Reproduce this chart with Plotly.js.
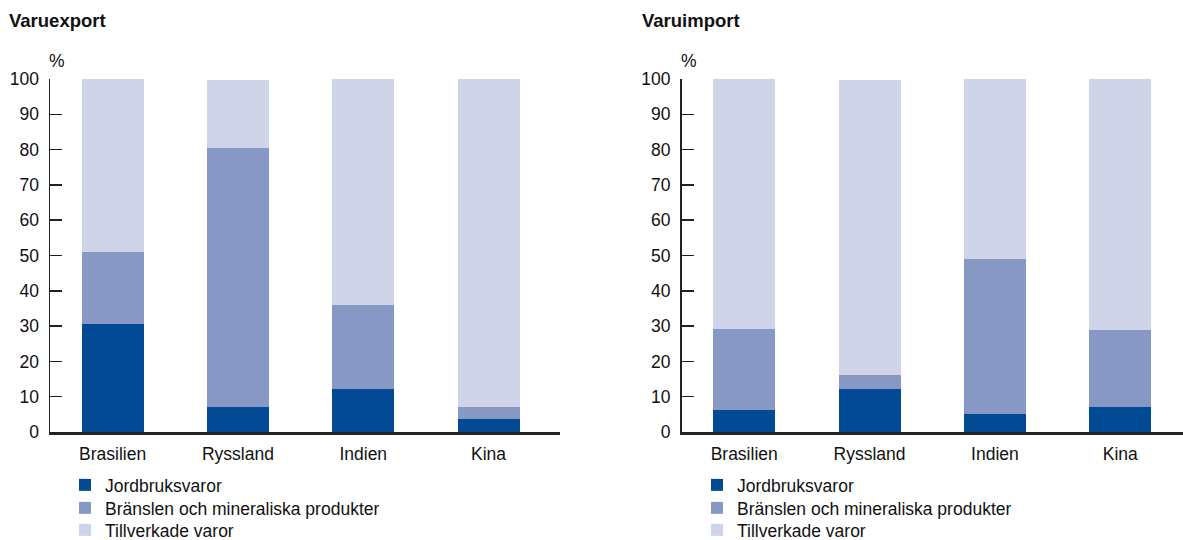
<!DOCTYPE html>
<html><head><meta charset="utf-8">
<script src="https://cdn.plot.ly/plotly-3.0.1.min.js"></script>
<style>html,body{margin:0;padding:0;background:#fff}#chart{width:1183px;height:540px}</style>
</head><body><div id="chart"></div>
<script>
const categories = ["Brasilien", "Ryssland", "Indien", "Kina"];
const seriesNames = ["Jordbruksvaror", "Bränslen och mineraliska produkter", "Tillverkade varor"];
const exportJord = [30.5, 7.1, 12.1, 3.6];
const exportBransle = [20.4, 73.3, 23.8, 3.4];
const exportTillv = [49.1, 19.3, 64.1, 93.0];
const importJord = [6.1, 12.1, 5.0, 7.0];
const importBransle = [23.0, 4.0, 44.0, 21.9];
const importTillv = [70.9, 83.6, 51.0, 71.1];
const yTicks = [0, 10, 20, 30, 40, 50, 60, 70, 80, 90, 100];
const colors = ["#034a94", "#8898c4", "#cfd4e8"];

const font = "Liberation Sans, Arial, Helvetica, sans-serif";
const FS = 17.5;
const traces = [];
const exp = [exportJord, exportBransle, exportTillv];
const imp = [importJord, importBransle, importTillv];
for (let i = 0; i < 3; i++) {
  traces.push({type: "bar", x: categories, y: exp[i], name: seriesNames[i], xaxis: "x", yaxis: "y",
    marker: {color: colors[i], line: {width: 0}}, width: 0.495, legend: "legend" + (i === 0 ? "" : (i + 1)), hoverinfo: "skip"});
}
for (let i = 0; i < 3; i++) {
  traces.push({type: "bar", x: categories, y: imp[i], name: seriesNames[i], xaxis: "x2", yaxis: "y2",
    marker: {color: colors[i], line: {width: 0}}, width: 0.495, legend: "legend" + (i + 4), hoverinfo: "skip"});
}
const yax = (anchor) => ({
  range: [0, 100], tickvals: yTicks, ticktext: yTicks.map(String), ticks: "inside", ticklen: 12,
  tickcolor: "#222", tickwidth: 1.5, showline: true, linecolor: "#222", linewidth: 1.5,
  showgrid: false, zeroline: false, anchor: anchor, ticklabelstandoff: 6,
  tickfont: {family: font, size: FS, color: "#111"}, fixedrange: true
});
const xax = (domain, range, anchor) => ({
  domain: domain, range: range, type: "category", showline: true, linecolor: "#222", linewidth: 2.5,
  ticks: "", showgrid: false, zeroline: false, anchor: anchor, ticklabelstandoff: 4,
  tickfont: {family: font, size: FS, color: "#111"}, fixedrange: true
});
const W = 1133, H = 353;
const legendBase = {orientation: "v", xanchor: "left", yanchor: "top", traceorder: "normal",
  font: {family: font, size: FS, color: "#111"}, bgcolor: "rgba(0,0,0,0)", tracegroupgap: 0, itemclick: false};
const legendTops = [467, 490, 512];
const layout = {
  width: 1183, height: 540, margin: {l: 50, r: 0, t: 79, b: 108, autoexpand: false},
  barmode: "stack", paper_bgcolor: "#fff", plot_bgcolor: "#fff", showlegend: true,
  font: {family: font, color: "#111"},
  xaxis: xax([0, 510 / W], [-0.5, 3.57], "y"),
  yaxis: yax("x"),
  xaxis2: xax([631.5 / W, 1], [-0.5, 3.5], "y2"),
  yaxis2: yax("x2"),
  annotations: [
    {text: "<b>Varuexport</b>", xref: "paper", yref: "paper", x: -43 / W, y: (432 - 20) / H, xanchor: "left", yanchor: "middle", showarrow: false, font: {family: font, size: 18.5, color: "#111"}},
    {text: "<b>Varuimport</b>", xref: "paper", yref: "paper", x: 590 / W, y: (432 - 20) / H, xanchor: "left", yanchor: "middle", showarrow: false, font: {family: font, size: 18.5, color: "#111"}},
    {text: "%", xref: "paper", yref: "paper", x: -3 / W, y: (432 - 61) / H, xanchor: "left", yanchor: "middle", showarrow: false, font: {family: font, size: FS, color: "#111"}},
    {text: "%", xref: "paper", yref: "paper", x: 628.5 / W, y: (432 - 61) / H, xanchor: "left", yanchor: "middle", showarrow: false, font: {family: font, size: FS, color: "#111"}}
  ]
};
for (let i = 0; i < 6; i++) {
  const key = "legend" + (i === 0 ? "" : (i + 1));
  const xpx = i < 3 ? 65 : 697;
  layout[key] = Object.assign({}, legendBase, {x: (xpx - 50) / W, y: (432 - legendTops[i % 3]) / H});
}
Plotly.newPlot("chart", traces, layout, {displayModeBar: false, staticPlot: true});
</script></body></html>
